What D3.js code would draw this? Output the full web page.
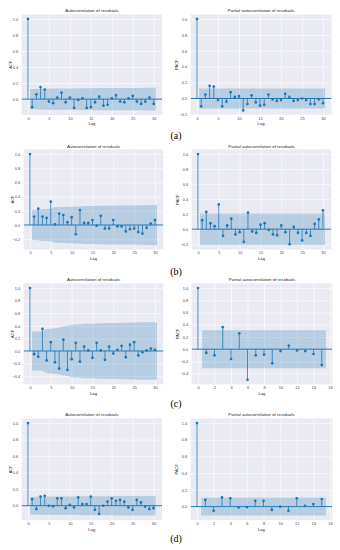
<!DOCTYPE html>
<html><head><meta charset="utf-8">
<script src="https://cdn.jsdelivr.net/npm/d3@7"></script>
<style>body{margin:0;background:#fff}svg{display:block}</style>
</head><body>
<svg id="c" width="340" height="550"></svg>
<script>
// ---------- data ----------
const acfA  = [1.0,-0.10,0.06,0.15,0.12,-0.03,-0.05,0.02,0.08,-0.04,0.02,-0.11,-0.01,0.01,-0.11,-0.10,-0.04,0.03,-0.08,-0.07,0.01,0.05,-0.03,-0.04,0.01,0.04,-0.03,-0.06,-0.03,0.02,-0.06];
const bandAcfA = [0.126,0.127,0.128,0.131,0.132,0.132,0.133,0.133,0.133,0.134,0.134,0.135,0.135,0.135,0.137,0.138,0.138,0.138,0.139,0.139,0.139,0.140,0.140,0.140,0.140,0.140,0.140,0.141,0.141,0.141];
const pacfA = [1.0,-0.10,0.05,0.16,0.15,-0.02,-0.10,-0.04,0.08,0.02,0.03,-0.15,-0.07,0.04,-0.05,-0.09,-0.08,0.05,-0.01,-0.03,-0.02,0.06,0.02,-0.03,-0.02,0.00,-0.02,-0.07,-0.07,-0.01,-0.06];
const bandPacfA = 0.126;

const acfB  = [1.0,0.12,0.23,0.12,0.10,0.33,0.01,0.16,0.14,0.04,0.11,-0.13,0.21,0.03,0.03,0.07,-0.01,0.13,-0.05,-0.05,0.07,-0.02,-0.02,-0.09,-0.06,-0.05,-0.10,-0.12,-0.04,0.02,0.07];
const bandAcfB = [0.210,0.213,0.224,0.227,0.228,0.249,0.249,0.253,0.256,0.257,0.259,0.262,0.269,0.269,0.269,0.270,0.270,0.273,0.273,0.274,0.274,0.275,0.275,0.276,0.276,0.277,0.278,0.281,0.281,0.281];
const pacfB = [1.0,0.12,0.23,0.08,0.04,0.33,-0.09,0.05,0.14,-0.07,-0.04,-0.17,0.22,-0.03,-0.05,0.06,0.08,-0.01,-0.07,-0.08,0.05,-0.04,-0.20,0.03,-0.05,-0.15,-0.05,-0.09,0.07,0.13,0.25];
const bandPacfB = 0.21;

const acfC  = [1.0,-0.05,-0.09,0.35,-0.15,0.14,-0.18,-0.28,0.18,-0.30,-0.13,0.13,-0.17,0.07,0.01,-0.11,0.13,0.01,-0.14,0.07,-0.04,0.02,0.08,-0.10,0.10,0.14,-0.07,-0.02,0.01,0.04,0.02];
const bandAcfC = [0.310,0.311,0.313,0.349,0.355,0.360,0.369,0.389,0.397,0.418,0.422,0.426,0.432,0.433,0.433,0.436,0.440,0.440,0.444,0.445,0.445,0.445,0.447,0.449,0.451,0.455,0.456,0.456,0.456,0.457];
const pacfC = [1.0,-0.06,-0.10,0.36,-0.16,0.26,-0.50,-0.10,-0.09,-0.23,-0.03,0.06,-0.02,-0.03,-0.08,-0.26];
const bandPacfC = 0.31;

const acfD  = [1.0,0.08,-0.04,0.11,0.12,0.00,-0.005,0.09,0.09,-0.03,0.01,-0.02,0.10,0.02,0.02,0.11,-0.05,-0.10,0.00,0.05,0.09,0.06,0.07,0.05,-0.02,-0.05,0.07,0.04,-0.01,-0.04,-0.03];
const bandAcfD = [0.107,0.108,0.108,0.109,0.111,0.111,0.111,0.112,0.112,0.112,0.112,0.112,0.114,0.114,0.114,0.115,0.115,0.116,0.116,0.116,0.117,0.117,0.118,0.118,0.118,0.118,0.119,0.119,0.119,0.119];
const pacfD = [1.0,0.08,-0.05,0.11,0.10,-0.01,-0.005,0.07,0.07,-0.04,0.00,-0.05,0.10,0.01,0.03,0.09];
const bandPacfD = 0.107;

const xTicks30 = [0,5,10,15,20,25,30,35];
const xTicks15 = [0,2,4,6,8,10,12,14,16];
const yTicks = [-0.4,-0.2,0.0,0.2,0.4,0.6,0.8,1.0];
const titles = {acf: "Autocorrelation of residuals", pacf: "Partial autocorrelation of residuals"};
const ylabels = {acf: "ACF", pacf: "PACF"};
const captions = ["(a)", "(b)", "(c)", "(d)"];

// ---------- layout ----------
const C = "#1f77b4";
const rows = [
  {top:14.4, bottom:115.0, left:[21.6,162.2], right:[190.6,331.5], cap:139},
  {top:149.5, bottom:249.5, left:[23.6,163.4], right:[191.6,331.4], cap:275},
  {top:283.4, bottom:384.4, left:[23.6,163.4], right:[191.6,332.3], cap:407},
  {top:418.4, bottom:520.2, left:[21.6,162.0], right:[190.6,332.3], cap:542}
];
const fill = (v, n) => Array(n).fill(v);
const panels = [
  {row:0, side:"left",  kind:"acf",  vals:acfA,  band:bandAcfA, xt:xTicks30},
  {row:0, side:"right", kind:"pacf", vals:pacfA, band:fill(bandPacfA, pacfA.length-1), xt:xTicks30},
  {row:1, side:"left",  kind:"acf",  vals:acfB,  band:bandAcfB, xt:xTicks30},
  {row:1, side:"right", kind:"pacf", vals:pacfB, band:fill(bandPacfB, pacfB.length-1), xt:xTicks30},
  {row:2, side:"left",  kind:"acf",  vals:acfC,  band:bandAcfC, xt:xTicks30},
  {row:2, side:"right", kind:"pacf", vals:pacfC, band:fill(bandPacfC, pacfC.length-1), xt:xTicks15},
  {row:3, side:"left",  kind:"acf",  vals:acfD,  band:bandAcfD, xt:xTicks30},
  {row:3, side:"right", kind:"pacf", vals:pacfD, band:fill(bandPacfD, pacfD.length-1), xt:xTicks15}
];

const svg = d3.select("#c");
const FONT = "Liberation Sans, Arial, sans-serif";
const fmt = d3.format(".1f");

panels.forEach((p, i) => {
  const r = rows[p.row];
  const xr = r[p.side];
  const n = p.vals.length;
  const xmin = 0, xmax = n - 1 + 0.5;
  const xpad = (xmax - xmin) * 0.05;
  const x = d3.scaleLinear().domain([xmin - xpad, xmax + xpad]).range(xr);
  const lo = Math.min(d3.min(p.vals), -d3.max(p.band));
  const hi = Math.max(d3.max(p.vals), d3.max(p.band));
  const ypad = (hi - lo) * 0.05;
  const y = d3.scaleLinear().domain([lo - ypad, hi + ypad]).range([r.bottom, r.top]);
  const W = xr[1] - xr[0], H = r.bottom - r.top;
  const xt = p.xt.filter(v => v >= x.domain()[0] && v <= x.domain()[1]);
  const yt = yTicks.filter(v => v >= y.domain()[0] - 1e-9 && v <= y.domain()[1] + 1e-9);

  const g = svg.append("g");
  const cid = "clip" + i;
  g.append("clipPath").attr("id", cid).append("rect")
    .attr("x", xr[0]).attr("y", r.top).attr("width", W).attr("height", H);
  g.append("rect").attr("x", xr[0]).attr("y", r.top).attr("width", W).attr("height", H).attr("fill", "#EAEAF2");

  // grid
  const gx = g.append("g").attr("transform", `translate(0,${r.bottom})`)
    .call(d3.axisBottom(x).tickValues(xt).tickSize(-H).tickFormat(""));
  const gy = g.append("g").attr("transform", `translate(${xr[0]},0)`)
    .call(d3.axisLeft(y).tickValues(yt).tickSize(-W).tickFormat(""));
  [gx, gy].forEach(a => {
    a.select(".domain").remove();
    a.selectAll("line").attr("stroke", "#fff").attr("stroke-width", 0.6);
  });

  // tick labels
  const lx = g.append("g").attr("transform", `translate(0,${r.bottom})`)
    .call(d3.axisBottom(x).tickValues(xt).tickSize(0).tickPadding(2.2).tickFormat(d3.format("d")));
  const ly = g.append("g").attr("transform", `translate(${xr[0]},0)`)
    .call(d3.axisLeft(y).tickValues(yt).tickSize(0).tickPadding(3.5).tickFormat(fmt));
  [lx, ly].forEach(a => {
    a.select(".domain").remove();
    a.selectAll("text").attr("font-family", FONT).attr("font-size", 3.9).attr("fill", "#444");
  });

  const pg = g.append("g").attr("clip-path", `url(#${cid})`);
  // confidence band
  const pts = p.band.map((b, k) => ({lag: k + 1, b}));
  pts[0] = {lag: pts[0].lag - 0.5, b: pts[0].b};
  pts[pts.length - 1] = {lag: pts[pts.length - 1].lag + 0.5, b: pts[pts.length - 1].b};
  pg.append("path").datum(pts)
    .attr("d", d3.area().x(d => x(d.lag)).y0(d => y(-d.b)).y1(d => y(d.b)))
    .attr("fill", C).attr("fill-opacity", 0.25);
  // zero line
  pg.append("line").attr("x1", xr[0]).attr("x2", xr[1]).attr("y1", y(0)).attr("y2", y(0))
    .attr("stroke", C).attr("stroke-width", 1);
  // stems
  pg.selectAll(".stem").data(p.vals).join("line")
    .attr("x1", (d, k) => x(k)).attr("x2", (d, k) => x(k))
    .attr("y1", y(0)).attr("y2", d => y(d))
    .attr("stroke", C).attr("stroke-width", 0.8);
  pg.selectAll(".mk").data(p.vals).join("circle")
    .attr("cx", (d, k) => x(k)).attr("cy", d => y(d)).attr("r", 1.35).attr("fill", C);

  // title
  g.append("text").attr("x", (xr[0] + xr[1]) / 2).attr("y", r.top - 2)
    .attr("text-anchor", "middle").attr("font-family", FONT).attr("font-size", 4.4).attr("fill", "#262626")
    .text(titles[p.kind]);
  // x label
  g.append("text").attr("x", (xr[0] + xr[1]) / 2).attr("y", r.bottom + 10.3)
    .attr("text-anchor", "middle").attr("font-family", FONT).attr("font-size", 4.2).attr("fill", "#262626")
    .text("Lag");
  // y label
  const yl = xr[0] - (p.kind === "pacf" ? 14.5 : 11.5) + 1.4;
  const yc = (r.top + r.bottom) / 2;
  g.append("text").attr("transform", `translate(${yl},${yc}) rotate(-90)`)
    .attr("text-anchor", "middle").attr("font-family", FONT).attr("font-size", 4.0).attr("fill", "#262626")
    .text(ylabels[p.kind]);
});

// captions
rows.forEach((r, i) => {
  svg.append("text").attr("x", 176).attr("y", r.cap).attr("text-anchor", "middle")
    .attr("font-family", "Liberation Serif, Times New Roman, serif").attr("font-size", 10).attr("fill", "#000")
    .text(captions[i]);
});
</script>
</body></html>
